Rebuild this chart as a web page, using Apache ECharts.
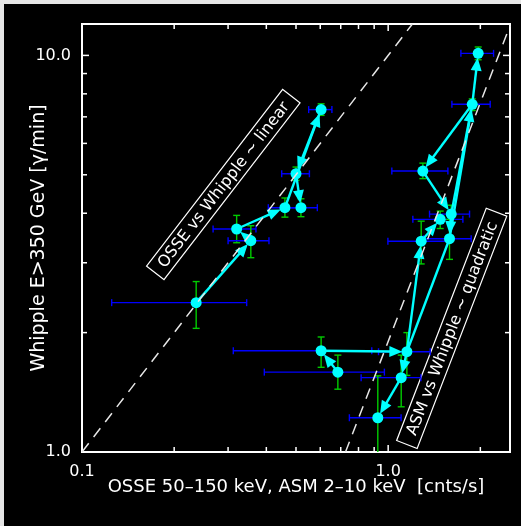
<!DOCTYPE html>
<html><head><meta charset="utf-8">
<script src="https://cdn.jsdelivr.net/npm/echarts@6/dist/echarts.min.js"></script>
<style>html,body{margin:0;padding:0;background:#000;}#c{width:521px;height:526px;}</style>
</head><body><div id="c"></div>
<script>
// ---------- data ----------
// OSSE 50-150 keV vs Whipple
const osseX   = [0.236, 0.320, 0.356, 0.460, 0.500, 0.604, 0.519];
const osseY   = [2.38, 3.65, 3.41, 4.13, 5.03, 7.30, 4.13];
const osseXLo = [0.125, 0.268, 0.300, 0.406, 0.449, 0.550, 0.458];
const osseXHi = [0.345, 0.370, 0.408, 0.521, 0.553, 0.655, 0.587];
const osseYLo = [2.05, 3.37, 3.09, 3.91, 4.84, 7.06, 3.92];
const osseYHi = [2.69, 3.95, 3.72, 4.37, 5.23, 7.55, 4.35];
const osseArrows = [[0,2],[2,1],[1,3],[3,5],[5,4],[4,6]];

// ASM 2-10 keV vs Whipple
const asmX   = [1.968, 1.882, 1.298, 1.607, 1.479, 1.282, 1.586, 0.604, 0.685, 1.151, 1.103, 0.925];
const asmY   = [10.12, 7.53, 5.11, 3.98, 3.86, 3.40, 3.45, 1.80, 1.59, 1.79, 1.54, 1.22];
const asmXLo = [1.728, 1.615, 1.028, 1.365, 1.204, 0.998, 1.305, 0.312, 0.394, 0.930, 0.816, 0.747];
const asmXHi = [2.209, 2.154, 1.567, 1.844, 1.754, 1.566, 1.867, 0.884, 0.972, 1.372, 1.279, 1.102];
const asmYLo = [9.75, 7.26, 4.89, 3.77, 3.66, 2.98, 3.06, 1.635, 1.44, 1.56, 1.30, 0.90];
const asmYHi = [10.50, 7.77, 5.35, 4.19, 4.05, 3.82, 3.86, 1.95, 1.755, 2.00, 1.755, 1.556];
const asmArrows = [[8,7],[7,9],[9,10],[10,11],[9,5],[5,4],[2,3],[3,6],[1,2],[1,0],[3,1]];
const asmPlainLinks = [[6,1],[6,9]];

// reference relations (dashed)
const linearX = [0.1, 1.2];
const linearY = [1, 12];
const quadX = [0.7255, 2.5];
const quadY = [1, 11.875];

// axes
const xRange = [0.1, 2.5];
const yRange = [1, 12];
const xTickValues = [0.1, 1];
const xTickLabels = ['0.1', '1.0'];
const yTickValues = [1, 10];
const yTickLabels = ['1.0', '10.0'];
const xMinorTicks = [0.2,0.3,0.4,0.5,0.6,0.7,0.8,0.9,2];
const yMinorTicks = [2,3,4,5,6,7,8,9];

const xTitle = 'OSSE 50\u2013150 keV, ASM 2\u201310 keV  [cnts/s]';
const yTitle = 'Whipple E>350 GeV [\u03b3/min]';
const osseNote = 'OSSE vs Whipple ~ linear';
const asmNote = 'ASM vs Whipple ~ quadratic';

// ---------- build ----------
const FONT = '"DejaVu Sans", sans-serif';
const CYAN = '#00ffff';

const ptsX = osseX.concat(asmX), ptsY = osseY.concat(asmY);
const allXLo = osseXLo.concat(asmXLo), allXHi = osseXHi.concat(asmXHi);
const allYLo = osseYLo.concat(asmYLo), allYHi = osseYHi.concat(asmYHi);
const errData = ptsX.map((x,i)=>[x, ptsY[i], allXLo[i], allXHi[i], allYLo[i], allYHi[i]]);

function linkData(links, xs, ys){ return links.map(([a,b])=>[xs[a],ys[a],xs[b],ys[b]]); }
const arrowData = linkData(osseArrows, osseX, osseY).concat(linkData(asmArrows, asmX, asmY));
const plainData = linkData(asmPlainLinks, asmX, asmY);

function labelFor(vals, labs){
  return function(v){
    const i = vals.findIndex(t=>Math.abs(t-v)/t < 1e-6);
    return i>=0 ? labs[i] : '';
  };
}

function renderErr(params, api){
  const x=api.value(0), y=api.value(1);
  const a=api.coord([api.value(2), y]), b=api.coord([api.value(3), y]);
  const c=api.coord([x, api.value(4)]), d=api.coord([x, api.value(5)]);
  const cap=3.5;
  const blue={stroke:'#0000ff', lineWidth:1.4};
  const green={stroke:'#00cc00', lineWidth:1.4};
  return {type:'group', children:[
    {type:'line', shape:{x1:a[0],y1:a[1],x2:b[0],y2:b[1]}, style:blue},
    {type:'line', shape:{x1:a[0],y1:a[1]-cap,x2:a[0],y2:a[1]+cap}, style:blue},
    {type:'line', shape:{x1:b[0],y1:b[1]-cap,x2:b[0],y2:b[1]+cap}, style:blue},
    {type:'line', shape:{x1:c[0],y1:c[1],x2:d[0],y2:d[1]}, style:green},
    {type:'line', shape:{x1:c[0]-cap,y1:c[1],x2:c[0]+cap,y2:c[1]}, style:green},
    {type:'line', shape:{x1:d[0]-cap,y1:d[1],x2:d[0]+cap,y2:d[1]}, style:green}
  ]};
}

function makeLinkRenderer(withHead){
  return function(params, api){
    const p1=api.coord([api.value(0),api.value(1)]), p2=api.coord([api.value(2),api.value(3)]);
    const dx=p2[0]-p1[0], dy=p2[1]-p1[1], L=Math.hypot(dx,dy)||1;
    const ux=dx/L, uy=dy/L, nx=-uy, ny=ux;
    if(!withHead){
      return {type:'line', shape:{x1:p1[0],y1:p1[1],x2:p2[0],y2:p2[1]}, style:{stroke:CYAN, lineWidth:2.4}};
    }
    const TIP=4.5, AL=13, AW=5.5;
    const tip=[p2[0]-ux*TIP, p2[1]-uy*TIP];
    const base=[tip[0]-ux*AL, tip[1]-uy*AL];
    return {type:'group', children:[
      {type:'line', shape:{x1:p1[0],y1:p1[1],x2:base[0]+ux*2,y2:base[1]+uy*2}, style:{stroke:CYAN, lineWidth:2.4}},
      {type:'polygon', shape:{points:[tip,[base[0]+nx*AW, base[1]+ny*AW],[base[0]-nx*AW, base[1]-ny*AW]]}, style:{fill:CYAN}}
    ]};
  };
}

const xTickData = xTickValues.concat(xMinorTicks).map(v=>[v, yRange[0]]);
const yTickData = yTickValues.concat(yMinorTicks).map(v=>[xRange[0], v]);
function renderXTick(params, api){
  const v=api.value(0);
  const len = xTickValues.indexOf(v)>=0 ? 7 : 5;
  const b=api.coord([v, yRange[0]]), t=api.coord([v, yRange[1]]);
  const st={stroke:'#fff', lineWidth:1.5};
  return {type:'group', children:[
    {type:'line', shape:{x1:b[0],y1:b[1],x2:b[0],y2:b[1]-len}, style:st},
    {type:'line', shape:{x1:t[0],y1:t[1],x2:t[0],y2:t[1]+len}, style:st}
  ]};
}
function renderYTick(params, api){
  const v=api.value(1);
  const len = yTickValues.indexOf(v)>=0 ? 7 : 5;
  const l=api.coord([xRange[0], v]), r=api.coord([xRange[1], v]);
  const st={stroke:'#fff', lineWidth:1.5};
  return {type:'group', children:[
    {type:'line', shape:{x1:l[0],y1:l[1],x2:l[0]+len,y2:l[1]}, style:st},
    {type:'line', shape:{x1:r[0],y1:r[1],x2:r[0]-len,y2:r[1]}, style:st}
  ]};
}

function note(text, cx, cy, angleDeg, w, h){
  return {type:'group', x:cx, y:cy, rotation:angleDeg*Math.PI/180, children:[
    {type:'rect', shape:{x:-w/2,y:-h/2,width:w,height:h}, style:{fill:'none', stroke:'#fff', lineWidth:1.2}},
    {type:'text', style:{text:text, x:0, y:1, align:'center', verticalAlign:'middle', fill:'#fff', font:'16px "DejaVu Sans", sans-serif'}}
  ]};
}

const chart = echarts.init(document.getElementById('c'), null, {renderer:'canvas'});
chart.setOption({
  backgroundColor:'#000',
  animation:false,
  grid:{left:82, right:11, top:24, bottom:74, show:true, borderColor:'#ffffff', borderWidth:2, backgroundColor:'transparent', outerBoundsMode:'none'},
  xAxis:{type:'log', logBase:10, min:xRange[0], max:xRange[1],
    axisLine:{show:false}, axisTick:{show:false}, splitLine:{show:false}, minorTick:{show:false},
    axisLabel:{color:'#fff', fontSize:16, fontFamily:FONT, margin:12, formatter:labelFor(xTickValues,xTickLabels), showMinLabel:true, showMaxLabel:true, hideOverlap:false},
    name:xTitle, nameLocation:'middle', nameGap:26, nameMoveOverlap:false, nameTextStyle:{color:'#fff', fontSize:18, fontFamily:FONT}},
  yAxis:{type:'log', logBase:10, min:yRange[0], max:yRange[1],
    axisLine:{show:false}, axisTick:{show:false}, splitLine:{show:false}, minorTick:{show:false},
    axisLabel:{color:'#fff', fontSize:16, fontFamily:FONT, margin:11, formatter:labelFor(yTickValues,yTickLabels), showMinLabel:true, showMaxLabel:true, hideOverlap:false},
    name:yTitle, nameLocation:'middle', nameGap:33, nameMoveOverlap:false, nameTextStyle:{color:'#fff', fontSize:19, fontFamily:FONT}},
  graphic:[
    {type:'rect', x:0, y:0, shape:{x:0,y:0,width:521,height:4}, style:{fill:'#e6e6e6'}, silent:true},
    {type:'rect', x:0, y:0, shape:{x:0,y:0,width:4,height:526}, style:{fill:'#e6e6e6'}, silent:true},
    note(osseNote, 223.3, 184.5, 52.4, 223, 22),
    note(asmNote, 451.7, 328.3, 68.9, 249, 22)
  ],
  series:[
    {type:'line', data:linearX.map((x,i)=>[x,linearY[i]]), symbol:'none', silent:true,
     lineStyle:{color:'#e6e6e6', width:1.5, type:[11,8]}},
    {type:'line', data:quadX.map((x,i)=>[x,quadY[i]]), symbol:'none', silent:true,
     lineStyle:{color:'#e6e6e6', width:1.5, type:[11,8]}},
    {type:'custom', data:errData, renderItem:renderErr, clip:true, encode:{x:[0,2,3], y:[1,4,5]}},
    {type:'custom', data:plainData, renderItem:makeLinkRenderer(false), clip:true, encode:{x:[0,2], y:[1,3]}},
    {type:'custom', data:arrowData, renderItem:makeLinkRenderer(true), clip:true, encode:{x:[0,2], y:[1,3]}},
    {type:'scatter', data:ptsX.map((x,i)=>[x,ptsY[i]]), symbol:'circle', symbolSize:11, itemStyle:{color:CYAN, opacity:1}},
    {type:'custom', data:xTickData, renderItem:renderXTick, encode:{x:0, y:1}},
    {type:'custom', data:yTickData, renderItem:renderYTick, encode:{x:0, y:1}}
  ]
});
</script></body></html>
